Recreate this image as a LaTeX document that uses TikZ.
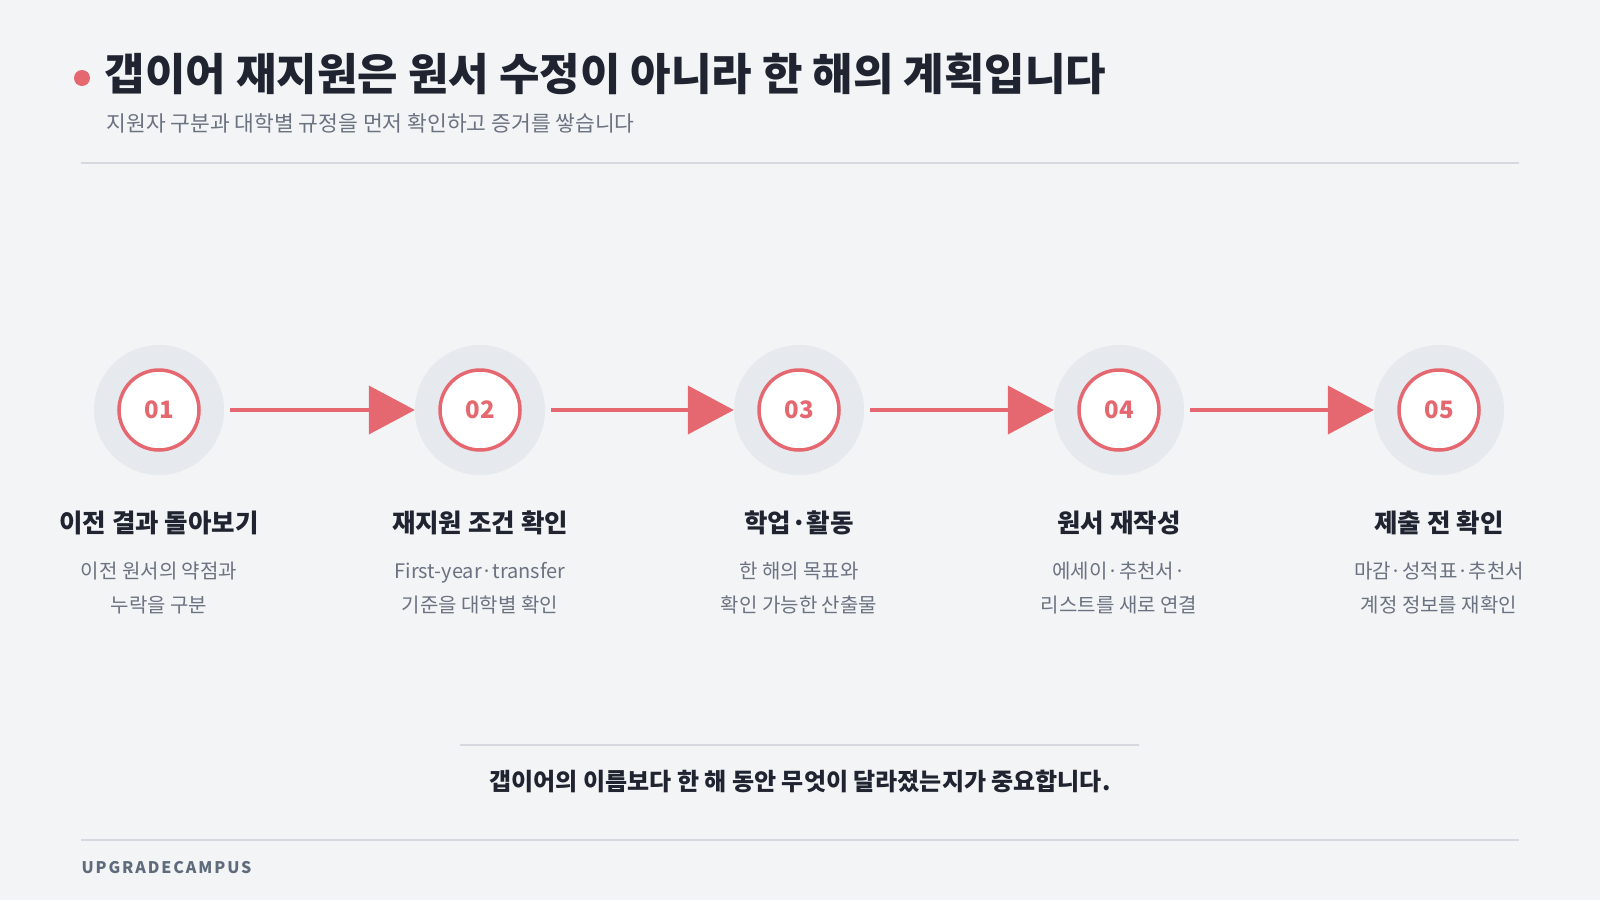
\documentclass[tikz,border=0pt]{standalone}
\usepackage{fontspec}
\setmainfont{Noto Sans CJK KR}
\usetikzlibrary{arrows.meta}
\definecolor{bg}{HTML}{F2F4F6}
\definecolor{halo}{HTML}{E6E9EE}
\definecolor{acc}{HTML}{E5676F}
\definecolor{ink}{HTML}{1F2430}
\definecolor{sub}{HTML}{6B7280}
\definecolor{brandc}{HTML}{5F6B7A}
\definecolor{rule}{HTML}{D5D9DF}
\begin{document}
\begin{tikzpicture}[x=1pt,y=-1pt,
  halo/.style={circle,fill=halo,minimum size=130pt,inner sep=0pt},
  stepc/.style={circle,fill=white,draw=acc,line width=3.5pt,minimum size=80pt,inner sep=0pt,text=acc,font=\fontsize{24}{26}\selectfont\bfseries},
  lab/.style={font=\fontsize{25.5}{28}\selectfont\bfseries,text=ink},
  desc/.style={font=\fontsize{20}{34}\selectfont,text=sub,align=center},
  conn/.style={acc,line width=4pt,-{Triangle[length=46pt,width=48pt]}}]
\fill[bg] (0,0) rectangle (1600,900);
\useasboundingbox (0,0) rectangle (1600,900);
\fill[acc] (82,78) circle (8);
\node[anchor=west,font=\fontsize{44}{50}\selectfont\bfseries,text=ink] (title) at (101,74) {갭이어 재지원은 원서 수정이 아니라 한 해의 계획입니다};
\node[anchor=west,font=\fontsize{21.5}{24}\selectfont,text=sub] (subt) at (103,123) {지원자 구분과 대학별 규정을 먼저 확인하고 증거를 쌓습니다};
\draw[rule,line width=1.5pt] (81,163) -- (1519,163);
\foreach \i/\x/\n/\l/\d in {1/159/01/이전 결과 돌아보기/{이전 원서의 약점과\\누락을 구분},
  2/480/02/재지원 조건 확인/{First-year·transfer\\기준을 대학별 확인},
  3/799/03/학업·활동/{한 해의 목표와\\확인 가능한 산출물},
  4/1119/04/원서 재작성/{에세이·추천서·\\리스트를 새로 연결},
  5/1439/05/제출 전 확인/{마감·성적표·추천서\\계정 정보를 재확인}}{
  \node[halo] (h\i) at (\x,410) {};
  \node[stepc] (s\i) at (\x,410) {\n};
  \node[lab] (l\i) at (\x,523) {\l};
  \node[desc] (d\i) at (\x,588) {\d};
}
\foreach \a/\b in {1/2,2/3,3/4,4/5}{
  \draw[conn] ([xshift=6pt]h\a.east) -- (h\b.west);
}
\draw[rule,line width=1.5pt] (460,745) -- (1139,745);
\node[font=\fontsize{24}{26}\selectfont\bfseries,text=ink] (note) at (800,781) {갭이어의 이름보다 한 해 동안 무엇이 달라졌는지가 중요합니다.};
\draw[rule,line width=1.5pt] (81,840) -- (1519,840);
\node[anchor=west,font=\fontsize{16}{18}\selectfont\bfseries,text=brandc] (brand) at (78,868) {\addfontfeature{LetterSpace=12}UPGRADECAMPUS};
\end{tikzpicture}
\end{document}
